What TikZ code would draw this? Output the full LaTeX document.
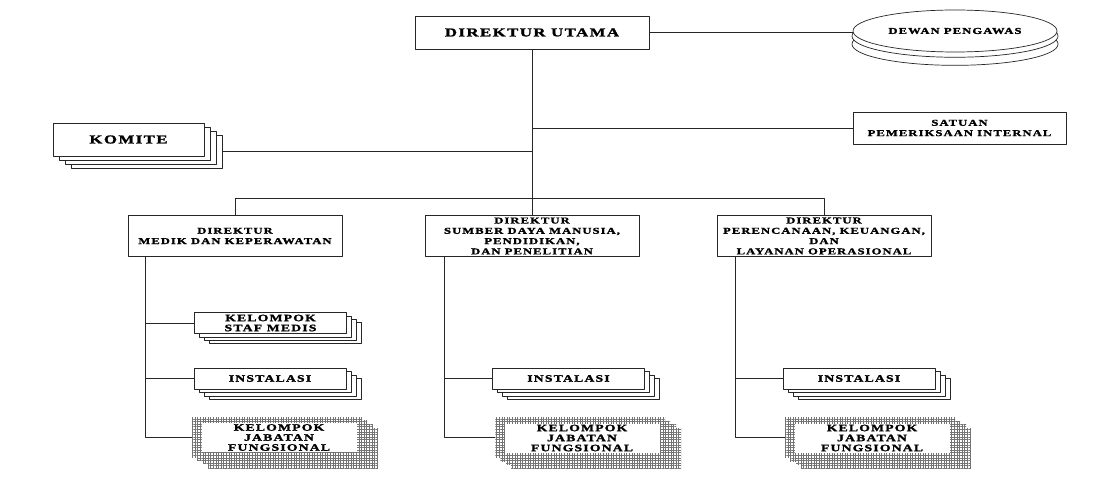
\documentclass[tikz,border=0pt]{standalone}
\usepackage{fontspec}
\newfontfamily\orgfont[FakeStretch=1.4,LetterSpace=12,FakeBold=1.8]{Liberation Serif Bold}
\usetikzlibrary{shapes.geometric,shadows,patterns.meta}
\begin{document}
\begin{tikzpicture}[x=1pt,y=-1pt,line join=round,line width=0.7pt,draw=black!85,
  box/.style={draw,fill=white,align=center,inner sep=0pt,font=\orgfont\fontsize{9}{10.3}\selectfont},
  bigbox/.style={box,font=\orgfont\fontsize{12}{14}\selectfont},
  subbox/.style={box,minimum width=152pt,minimum height=21pt,font=\orgfont\fontsize{9.8}{10}\selectfont},
  dirbox/.style={box,minimum width=214pt,minimum height=41pt},
  stackbig/.style={general shadow={draw,fill=white,shadow xshift=18pt,shadow yshift=-12pt},
    general shadow={draw,fill=white,shadow xshift=12pt,shadow yshift=-8pt},
    general shadow={draw,fill=white,shadow xshift=6pt,shadow yshift=-4pt}},
  stack/.style={general shadow={draw,fill=white,shadow xshift=15pt,shadow yshift=-10pt},
    general shadow={draw,fill=white,shadow xshift=10pt,shadow yshift=-7pt},
    general shadow={draw,fill=white,shadow xshift=5pt,shadow yshift=-3.5pt}},
  hatchpat/.style={pattern={Hatch[angle=0,distance=2.6pt,line width=0.3pt]},pattern color=black!55},
  hatchbox/.style={hatchpat,minimum width=170pt,minimum height=40pt,inner sep=0pt,
    general shadow={hatchpat,shadow xshift=16pt,shadow yshift=-11pt},
    general shadow={hatchpat,shadow xshift=11pt,shadow yshift=-7pt},
    general shadow={hatchpat,shadow xshift=5pt,shadow yshift=-3.5pt}},
  kjfbox/.style={box,draw=none,minimum width=155pt,minimum height=29pt,font=\orgfont\fontsize{9.8}{10}\selectfont}]
\useasboundingbox (0,0) rectangle (1097,489);

\node[bigbox,minimum width=234pt,minimum height=33pt] (dirut) at (532,32.5) {DIREKTUR UTAMA};
\node[box,ellipse,minimum width=204pt,minimum height=42pt,
  general shadow={draw,fill=white,shadow yshift=-13pt,shadow scale=1.01},
  general shadow={draw,fill=white,shadow yshift=-5pt,shadow scale=1.01}] (dewan) at (955,31) {DEWAN PENGAWAS};
\node[box,minimum width=213pt,minimum height=32pt] (spi) at (959.5,128) {SATUAN\\PEMERIKSAAN INTERNAL};
\node[bigbox,stackbig,minimum width=151pt,minimum height=33pt] (komite) at (128.5,139.5) {KOMITE};

\node[dirbox] (dir1) at (235,236) {DIREKTUR\\MEDIK DAN KEPERAWATAN};
\node[dirbox] (dir2) at (532,236) {DIREKTUR\\SUMBER DAYA MANUSIA,\\PENDIDIKAN,\\DAN PENELITIAN};
\node[dirbox] (dir3) at (824,236) {DIREKTUR\\PERENCANAAN, KEUANGAN,\\DAN\\LAYANAN OPERASIONAL};

\node[subbox,stack] (ksm) at (270.5,323) {KELOMPOK\\STAF MEDIS};
\node[subbox,stack] (inst1) at (270,378.5) {INSTALASI};
\node[subbox,stack] (inst2) at (568.5,378.5) {INSTALASI};
\node[subbox,stack] (inst3) at (859,378.5) {INSTALASI};

\node[hatchbox] (kjfa1) at (277,437) {};
\node[kjfbox] (kjf1) at (279,437.5) {KELOMPOK\\JABATAN\\FUNGSIONAL};
\node[hatchbox] (kjfa2) at (580,437.5) {};
\node[kjfbox] (kjf2) at (582,438) {KELOMPOK\\JABATAN\\FUNGSIONAL};
\node[hatchbox] (kjfa3) at (870,437.5) {};
\node[kjfbox] (kjf3) at (872,438) {KELOMPOK\\JABATAN\\FUNGSIONAL};

\coordinate (bar) at (532,198);
\coordinate (komend) at ([xshift=18pt,yshift=-12pt]komite.east);
\coordinate (s1) at ([xshift=18pt]dir1.south west);
\coordinate (s2) at ([xshift=20pt]dir2.south west);
\coordinate (s3) at ([xshift=19pt]dir3.south west);

\draw (dirut.east) -- (dirut.east -| dewan.west);
\draw (dirut.south) -- (dir2.north);
\draw (spi.west) -- (spi.west -| dirut.south);
\draw (komend) -- (komend -| dirut.south);
\draw (dir1.north) -- (dir1.north |- bar) -- (dir3.north |- bar) -- (dir3.north);

\draw (s1) |- (kjfa1.west);
\draw (ksm.west) -- (ksm.west -| s1);
\draw (inst1.west) -- (inst1.west -| s1);
\draw (s2) |- (kjfa2.west);
\draw (inst2.west) -- (inst2.west -| s2);
\draw (s3) |- (kjfa3.west);
\draw (inst3.west) -- (inst3.west -| s3);
\end{tikzpicture}
\end{document}
